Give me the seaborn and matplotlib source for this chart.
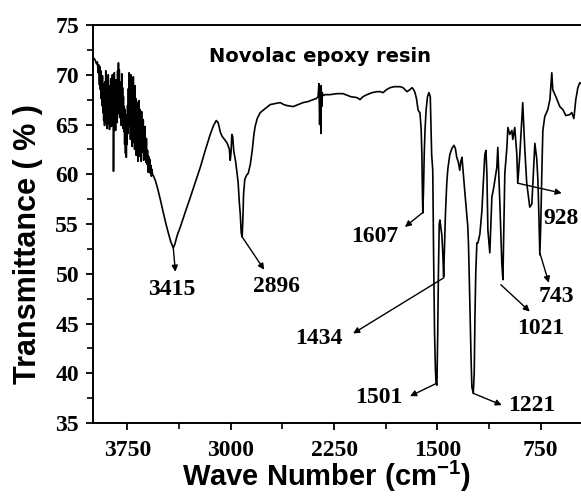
import numpy as np
import pandas as pd
import matplotlib
matplotlib.use("Agg")
import matplotlib.pyplot as plt
import seaborn as sns
from matplotlib.ticker import MultipleLocator

# ---- spectrum (wavenumber cm-1, transmittance %) ----
wavenumber = [
    3996, 3985, 3975, 3968, 3962, 3958, 3953, 3949, 3946, 3943, 3940, 3937, 3934, 3931,
    3928, 3925, 3922, 3919, 3916, 3913, 3910, 3907, 3904, 3901, 3898, 3895, 3892, 3889,
    3886, 3883, 3880, 3877, 3874, 3871, 3868, 3865, 3862, 3859, 3856, 3853, 3851, 3848,
    3845, 3842, 3839, 3836, 3833, 3830, 3827, 3824, 3821, 3818, 3815, 3812, 3809, 3806,
    3803, 3800, 3797, 3794, 3791, 3788, 3785, 3782, 3779, 3776, 3773, 3770, 3767, 3764,
    3761, 3758, 3755, 3752, 3749, 3746, 3743, 3740, 3737, 3734, 3731, 3728, 3725, 3722,
    3719, 3716, 3713, 3710, 3707, 3704, 3701, 3698, 3695, 3692, 3689, 3686, 3683, 3680,
    3677, 3674, 3671, 3668, 3665, 3662, 3659, 3656, 3653, 3650, 3647, 3644, 3641, 3638,
    3635, 3632, 3629, 3626, 3623, 3620, 3616, 3612, 3608, 3604, 3600, 3596, 3592, 3588,
    3584, 3580, 3576, 3572, 3568,
    3560, 3548, 3533, 3510, 3489, 3470, 3453, 3435, 3417, 3405, 3390, 3366, 3330, 3293,
    3257, 3221, 3185, 3149, 3125, 3105, 3092, 3075, 3062, 3040, 3025, 3010, 3004, 2998,
    2992, 2986, 2978, 2966, 2955, 2946, 2938, 2931, 2924, 2917, 2912, 2907, 2898, 2885,
    2873, 2858, 2844, 2832, 2823, 2808, 2786, 2750, 2714, 2680, 2641, 2615, 2591, 2547,
    2510, 2475, 2440, 2402, 2380, 2366, 2360, 2355, 2350, 2346, 2344, 2340, 2336, 2330,
    2315, 2279, 2230, 2185, 2130, 2083, 2062, 2040, 2011, 1975, 1939, 1915, 1895, 1870,
    1844, 1815, 1794, 1770, 1750, 1735, 1721, 1700, 1685, 1672, 1663, 1652, 1641, 1635,
    1627, 1618, 1613, 1609, 1606, 1601, 1596, 1590, 1582, 1572, 1562, 1552, 1542, 1534,
    1528, 1521, 1515, 1510, 1504, 1498, 1493, 1487, 1482, 1475, 1468, 1461, 1455, 1449,
    1442, 1432, 1424, 1410, 1395, 1380, 1370, 1360, 1348, 1338, 1330, 1322, 1315, 1300,
    1288, 1280, 1275, 1268, 1262, 1256, 1250, 1240, 1233, 1228, 1222, 1214, 1206, 1192,
    1177, 1170, 1156, 1148, 1141, 1134, 1120, 1105, 1091, 1069, 1062, 1047, 1033, 1025,
    1011, 996, 989, 975, 960, 953, 939, 924, 917, 902, 881, 866, 852, 837,
    830, 815, 801, 793, 779, 771, 764, 757, 750, 742, 735, 721, 699, 684,
    670, 663, 641, 612, 590, 568, 539, 525, 510, 496, 481, 467, 445, 420, 400,
]
transmittance = [
    71.7, 71.5, 71.1, 71.3, 70.2, 71.0, 69.0, 70.8, 68.5, 70.4, 67.6, 69.7, 66.9, 69.9,
    66.2, 69.1, 65.4, 68.6, 64.9, 69.3, 66.0, 70.4, 65.1, 69.0, 64.6, 68.2, 66.2, 70.0,
    65.1, 68.9, 64.5, 68.3, 66.0, 69.6, 64.8, 68.1, 65.7, 70.0, 64.9, 67.5, 60.3, 66.9,
    70.2, 65.6, 68.8, 64.4, 69.5, 66.4, 68.2, 65.2, 70.4, 66.9, 71.2, 66.1, 70.5, 65.7,
    69.3, 66.1, 68.4, 64.9, 70.1, 65.3, 68.7, 64.6, 67.8, 64.3, 66.8, 63.0, 66.5, 62.1,
    66.0, 61.7, 65.2, 63.0, 66.9, 64.1, 68.6, 64.8, 70.2, 65.0, 69.7, 63.5, 70.0, 64.6,
    69.2, 62.8, 68.5, 64.0, 69.8, 63.2, 68.0, 62.5, 68.9, 63.4, 67.6, 61.9, 67.3, 63.8,
    66.9, 61.3, 66.2, 62.6, 67.4, 61.8, 66.5, 62.4, 65.8, 61.3, 66.3, 62.2, 64.9, 62.6,
    65.5, 61.4, 64.3, 61.9, 64.8, 62.8, 61.2, 63.6, 61.0, 62.4, 60.2, 61.8, 60.6, 61.5,
    60.1, 60.9, 59.8, 60.5, 60.0,
    59.8, 59.4, 58.7, 57.4, 56.1, 55.0, 54.1, 53.2, 52.6, 53.0, 53.8, 54.7, 56.2, 57.7,
    59.2, 60.7, 62.4, 64.0, 64.9, 65.4, 65.2, 64.2, 63.8, 63.4, 63.1, 62.5, 61.4, 62.2,
    64.0, 63.8, 62.3, 61.4, 60.2, 59.1, 57.2, 56.0, 54.1, 53.7, 55.5, 58.0, 59.5, 59.9,
    60.1, 61.0, 62.4, 64.0, 64.8, 65.6, 66.2, 66.6, 67.0, 67.1, 67.2, 67.0, 66.9, 66.8,
    67.0, 67.2, 67.3, 67.5, 67.6, 67.8, 69.1, 65.0, 68.7, 64.1, 68.9, 66.8, 68.2, 67.9,
    68.0, 68.0, 68.1, 68.1, 67.8, 67.7, 67.5, 67.8, 68.0, 68.2, 68.3, 68.3, 68.2, 68.5,
    68.7, 68.8, 68.8, 68.8, 68.7, 68.5, 68.3, 68.5, 68.7, 68.5, 68.2, 67.6, 66.5, 66.3,
    66.2, 64.5, 62.0, 58.0, 56.1, 58.5, 62.0, 64.5, 66.5, 67.8, 68.2, 67.8, 62.0, 60.4,
    52.0, 44.0, 40.5, 39.0, 38.8, 44.0, 50.0, 55.0, 55.4, 54.6, 53.9, 52.0, 49.7, 52.5,
    56.0, 59.2, 60.6, 62.0, 62.6, 62.9, 62.6, 61.7, 61.2, 60.4, 61.3, 61.7, 60.5, 58.0,
    56.1, 54.8, 53.1, 49.0, 45.0, 41.5, 38.6, 38.0, 40.0, 45.5, 50.0, 53.1, 53.1, 54.0,
    56.4, 58.4, 62.0, 62.4, 60.0, 54.4, 52.1, 57.7, 58.7, 60.7, 62.7, 57.1, 51.1, 49.4,
    60.1, 62.7, 64.7, 64.0, 64.4, 63.5, 64.7, 62.0, 59.1, 62.0, 67.2, 62.5, 59.1, 57.5,
    56.7, 57.0, 61.0, 63.1, 61.5, 59.4, 56.0, 51.9, 55.0, 60.5, 64.4, 65.8, 66.5, 67.5,
    70.2, 68.5, 67.8, 66.8, 66.5, 65.9, 66.0, 66.2, 65.6, 67.5, 68.7, 69.2, 69.0, 68.8, 68.6,
]

# ---- peak annotations ----
peak_labels = ["3415", "2896", "1607", "1434", "1501", "1221", "1021", "743", "928"]
label_x = [3431, 2670, 1953, 2359, 1924, 815, 750, 634, 600]
label_y = [48.4, 48.7, 53.7, 43.5, 37.6, 36.8, 44.5, 47.7, 55.6]
arrow_from_x = [3417, 2917, 1612, 1453, 1504, 1243, 1040, 757, 917]
arrow_from_y = [52.6, 53.7, 56.1, 49.6, 39.0, 38.0, 48.9, 52.1, 59.1]
arrow_to_x = [3402, 2757, 1736, 2112, 1699, 1033, 830, 692, 598]
arrow_to_y = [50.2, 50.4, 54.7, 44.0, 37.7, 36.8, 46.2, 49.1, 58.1]

xticks = [3750, 3000, 2250, 1500, 750]
yticks = [35, 40, 45, 50, 55, 60, 65, 70, 75]
title_text = "Novolac epoxy resin"

sns.set_theme(style="ticks")
plt.rcParams.update({
    "font.family": ["Liberation Serif", "DejaVu Serif"],
    "mathtext.fontset": "custom",
    "mathtext.rm": "Liberation Sans:bold",
    "mathtext.bf": "Liberation Sans:bold",
    "mathtext.default": "bf",
    "axes.linewidth": 1.4,
    "text.color": "black",
    "axes.labelcolor": "black",
    "axes.edgecolor": "black",
    "xtick.color": "black",
    "ytick.color": "black",
    "xtick.labelcolor": "black",
    "ytick.labelcolor": "black",
})

fig = plt.figure(figsize=(5.81, 4.98), dpi=100)
ax = fig.add_axes([0.160, 0.1506, 0.8538, 0.7992])

df = pd.DataFrame({"Wave Number": wavenumber, "Transmittance": transmittance})
sns.lineplot(data=df, x="Wave Number", y="Transmittance", ax=ax, color="black",
             lw=1.2, sort=False, estimator=None)

ax.set_xlim(4000, 400)
ax.set_ylim(35, 75)
ax.set_xticks(xticks)
ax.set_yticks(yticks)
ax.xaxis.set_minor_locator(MultipleLocator(375))
ax.yaxis.set_minor_locator(MultipleLocator(2.5))
ax.tick_params(which="major", direction="out", length=5, width=1.3, pad=5,
               labelsize=17, top=False, right=False, color="black",
               labelcolor="black")
ax.tick_params(axis="x", which="major", pad=7)
ax.tick_params(which="minor", direction="out", length=4, width=1.2,
               top=False, right=False, color="black")
for lab in ax.get_xticklabels() + ax.get_yticklabels():
    lab.set_fontweight("bold")
    lab.set_family(["Liberation Serif"])
for s in ax.spines.values():
    s.set_color("black")
    s.set_visible(True)

ax.set_xlabel(r"Wave Number (cm$^{-1}$)", fontsize=21, fontweight="bold",
              family=["Liberation Sans"], color="black")
ax.set_ylabel("Transmittance ( % )", fontsize=22, fontweight="bold",
              family=["Liberation Sans"], color="black")
ax.xaxis.set_label_coords(0.47, -0.09)
ax.yaxis.set_label_coords(-0.100, 0.45)

ax.text(2352, 71.8, title_text, ha="center", va="center", fontsize=14,
        fontweight="bold", family=["DejaVu Sans"], color="black")

for lab, lx, ly, fx, fy, tx, ty in zip(peak_labels, label_x, label_y,
                                       arrow_from_x, arrow_from_y, arrow_to_x, arrow_to_y):
    ax.annotate("", xy=(tx, ty), xytext=(fx, fy),
                arrowprops=dict(arrowstyle="-|>", color="black", lw=1.0,
                                mutation_scale=9, shrinkA=0, shrinkB=0))
    ax.text(lx, ly, lab, ha="center", va="center", fontsize=17, fontweight="bold",
            family=["Liberation Serif"], color="black", clip_on=False)

fig.savefig("out.png", dpi=100)
